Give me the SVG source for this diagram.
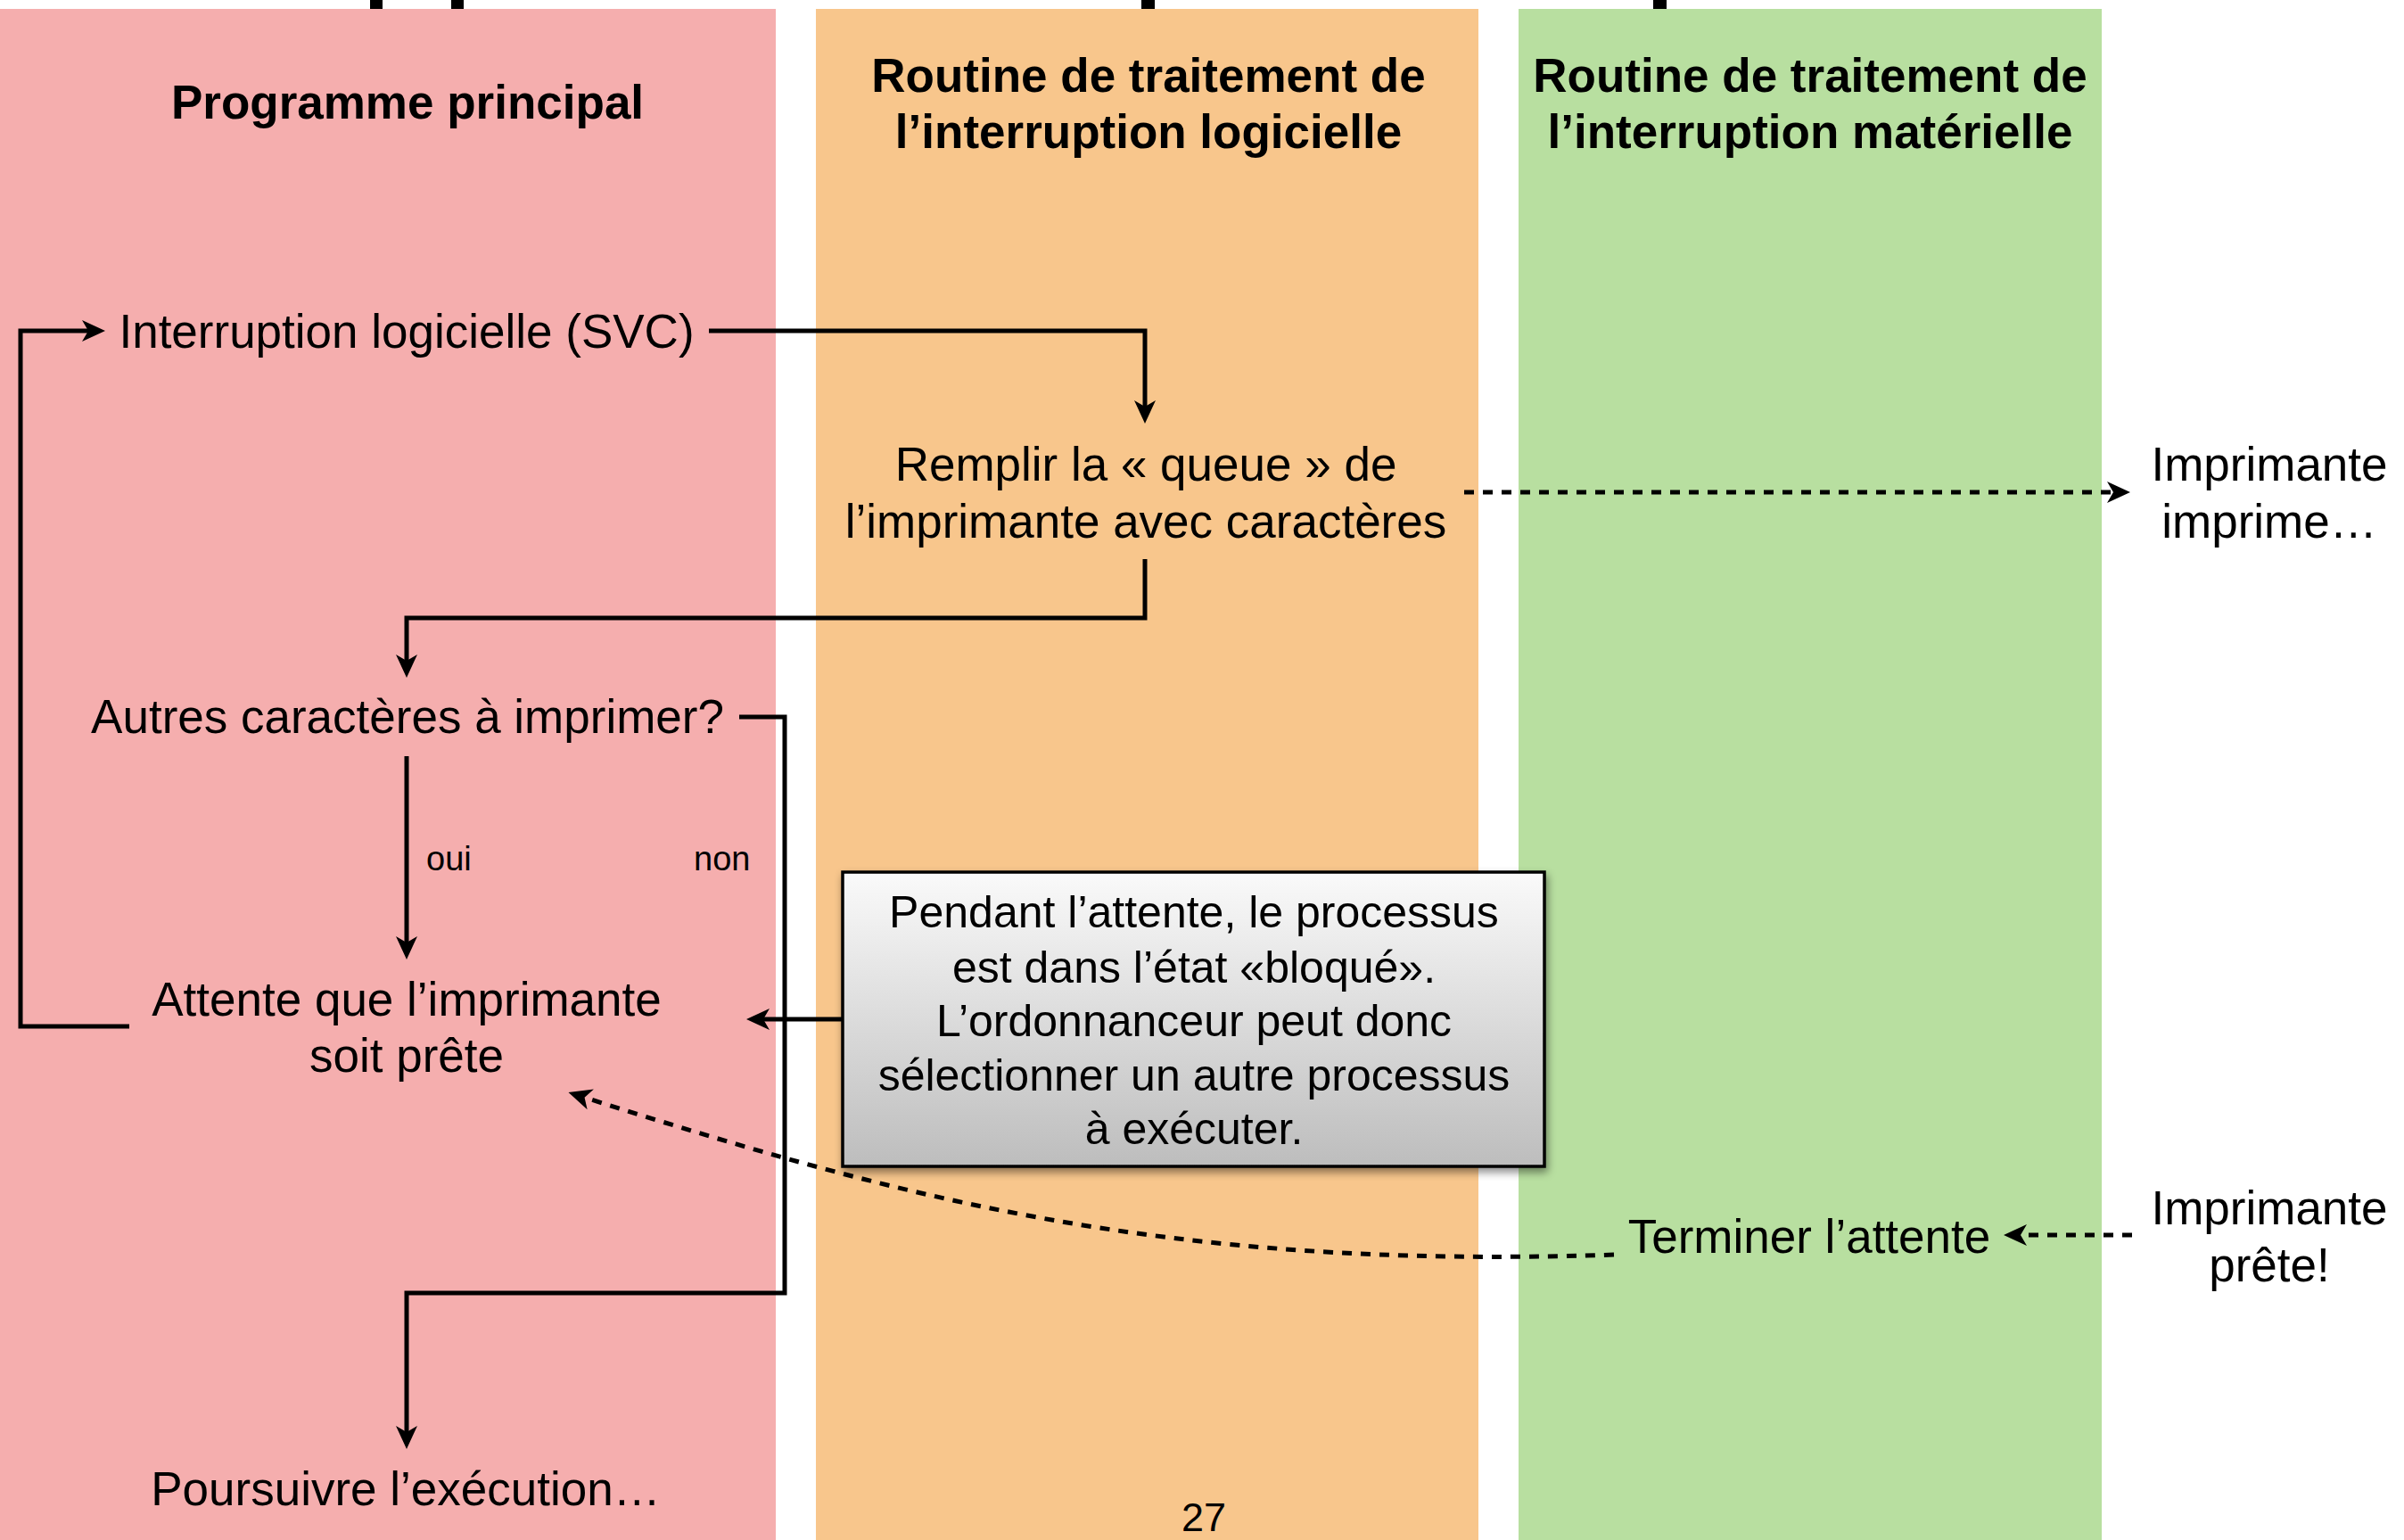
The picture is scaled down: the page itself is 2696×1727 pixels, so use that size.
<svg xmlns="http://www.w3.org/2000/svg" width="2696" height="1727" viewBox="0 0 2696 1727">
<defs>
<style>
.t{font-family:"Liberation Sans",Arial,sans-serif;font-size:53px;fill:#000;text-anchor:middle}
.h{font-family:"Liberation Sans",Arial,sans-serif;font-size:53px;font-weight:bold;fill:#000;text-anchor:middle}
.s{font-family:"Liberation Sans",Arial,sans-serif;font-size:38px;fill:#000}
.b{font-family:"Liberation Sans",Arial,sans-serif;font-size:50px;fill:#000;text-anchor:middle}
.c{fill:none;stroke:#000;stroke-width:5}
.a{marker-end:url(#arr)}
.d{stroke-dasharray:11 10}
</style>
<marker id="arr" markerUnits="userSpaceOnUse" viewBox="0 0 26 24" markerWidth="26" markerHeight="24" refX="16" refY="12" orient="auto">
<path d="M0,0 L26,12 L0,24 L7,12 Z" fill="#000"/>
</marker>
<linearGradient id="g" x1="0" y1="0" x2="0" y2="1">
<stop offset="0" stop-color="#fafafa"/>
<stop offset="1" stop-color="#bdbdbd"/>
</linearGradient>
<filter id="sh" x="-5%" y="-5%" width="115%" height="120%">
<feDropShadow dx="2" dy="5" stdDeviation="5" flood-color="#000" flood-opacity="0.45"/>
</filter>
</defs>
<rect width="2696" height="1727" fill="#fff"/>
<g id="top-marks">
<rect x="415" y="0" width="14" height="13" fill="#000"/>
<rect x="506" y="0" width="14" height="13" fill="#000"/>
<rect x="1280" y="0" width="15" height="13" fill="#000"/>
<rect x="1854" y="0" width="15" height="13" fill="#000"/>
</g>
<g id="lane-main">
<rect x="0" y="10" width="870" height="1717" fill="#f5aeae"/>
<text class="h" x="457" y="133">Programme principal</text>
</g>
<g id="lane-soft">
<rect x="915" y="10" width="743" height="1717" fill="#f8c68c"/>
<text class="h" x="1288" y="103">Routine de traitement de</text>
<text class="h" x="1288" y="166">l’interruption logicielle</text>
</g>
<g id="lane-hard">
<rect x="1703" y="10" width="654" height="1717" fill="#b8dfa0"/>
<text class="h" x="2030" y="103">Routine de traitement de</text>
<text class="h" x="2030" y="166">l’interruption matérielle</text>
</g>
<g id="connectors">
<path class="c a" d="M145,1151 L23,1151 L23,371 L108,371"/>
<path class="c a" d="M795,371 L1284,371 L1284,465"/>
<path class="c a" d="M1284,627 L1284,693 L456,693 L456,750"/>
<path class="c a" d="M456,848 L456,1066"/>
<path class="c a" d="M829,804 L880,804 L880,1450 L456,1450 L456,1615"/>
<path class="c a" d="M945,1143 L847,1143"/>
<path class="c d a" d="M1642,552 L2379,552"/>
<path class="c d a" d="M2391,1385 L2257,1385"/>
<path class="c d a" d="M1810,1407 C1300,1425 1000,1340 647,1228"/>
</g>
<g id="n-svc"><text class="t" x="456" y="390">Interruption logicielle (SVC)</text></g>
<g id="n-remplir">
<text class="t" x="1285" y="539">Remplir la « queue » de</text>
<text class="t" x="1285" y="603">l’imprimante avec caractères</text>
</g>
<g id="n-imprime">
<text class="t" x="2545" y="539">Imprimante</text>
<text class="t" x="2545" y="603">imprime…</text>
</g>
<g id="n-autres"><text class="t" x="457" y="822">Autres caractères à imprimer?</text></g>
<g id="labels">
<text class="s" x="478" y="976">oui</text>
<text class="s" x="778" y="976">non</text>
</g>
<g id="n-attente">
<text class="t" x="456" y="1139">Attente que l’imprimante</text>
<text class="t" x="456" y="1202">soit prête</text>
</g>
<g id="n-note">
<rect x="945" y="978" width="787" height="330" fill="url(#g)" stroke="#000" stroke-width="3.5" filter="url(#sh)"/>
<text class="b" x="1339" y="1040">Pendant l’attente, le processus</text>
<text class="b" x="1339" y="1102">est dans l’état «bloqué».</text>
<text class="b" x="1339" y="1162">L’ordonnanceur peut donc</text>
<text class="b" x="1339" y="1223">sélectionner un autre processus</text>
<text class="b" x="1339" y="1283">à exécuter.</text>
</g>
<g id="n-terminer"><text class="t" x="2029" y="1405">Terminer l’attente</text></g>
<g id="n-prete">
<text class="t" x="2545" y="1373">Imprimante</text>
<text class="t" x="2545" y="1437">prête!</text>
</g>
<g id="n-poursuivre"><text class="t" x="455" y="1688">Poursuivre l’exécution…</text></g>
<text x="1350" y="1717" style="font-family:'Liberation Sans',Arial,sans-serif;font-size:45px;text-anchor:middle">27</text>
</svg>
